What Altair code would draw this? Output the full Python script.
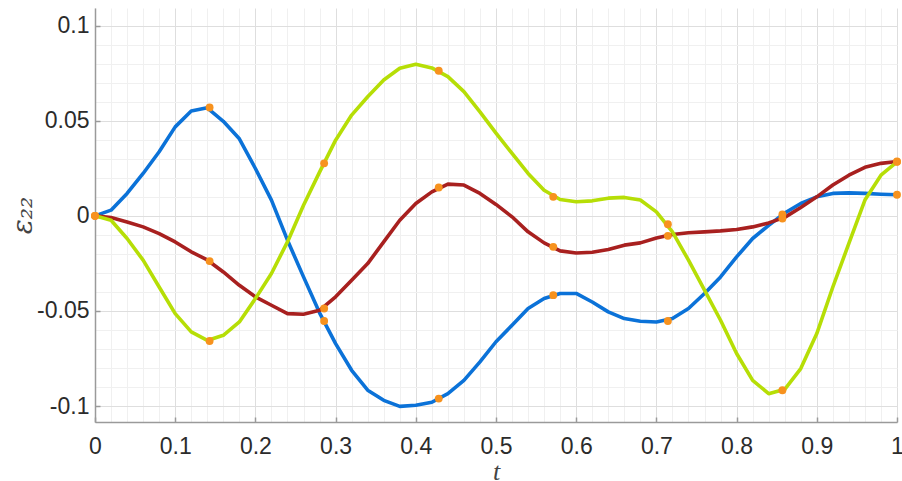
import altair as alt
import pandas as pd

# sample times of the curves
t = [0.0, 0.02, 0.04, 0.06, 0.08, 0.1, 0.12, 0.14, 0.16, 0.18,
     0.2, 0.22, 0.24, 0.26, 0.28, 0.3, 0.32, 0.34, 0.36, 0.38,
     0.4, 0.42, 0.44, 0.46, 0.48, 0.5, 0.52, 0.54, 0.56, 0.58,
     0.6, 0.62, 0.64, 0.66, 0.68, 0.7, 0.72, 0.74, 0.76, 0.78,
     0.8, 0.82, 0.84, 0.86, 0.88, 0.9, 0.92, 0.94, 0.96, 0.98, 1.0]

blue = [0.0, 0.003, 0.0118, 0.0223, 0.0337, 0.0468, 0.0551, 0.0568, 0.0497, 0.0405,
        0.0249, 0.0083, -0.0128, -0.0321, -0.051, -0.0672, -0.0812, -0.0917, -0.097, -0.1002,
        -0.0996, -0.098, -0.0935, -0.0865, -0.0768, -0.0662, -0.0575, -0.0487, -0.0435, -0.0408,
        -0.0408, -0.0453, -0.0505, -0.054, -0.0554, -0.0558, -0.054, -0.0487, -0.0408, -0.0321,
        -0.0216, -0.0119, -0.005, 0.0015, 0.0065, 0.010, 0.0118, 0.0121, 0.0118, 0.0114, 0.0111]

green = [0.0, -0.0023, -0.0119, -0.0233, -0.0374, -0.0514, -0.061, -0.0655, -0.0628, -0.0558,
         -0.0435, -0.0303, -0.0137, 0.0056, 0.023, 0.0398, 0.053, 0.0626, 0.0714, 0.0776,
         0.0797, 0.0778, 0.0732, 0.0653, 0.0547, 0.0435, 0.0328, 0.0223, 0.0135, 0.0086,
         0.0074, 0.0079, 0.0093, 0.0097, 0.0083, 0.0021, -0.0084, -0.0233, -0.0391, -0.0549,
         -0.0724, -0.0865, -0.0935, -0.0912, -0.0803, -0.0619, -0.0374, -0.0145, 0.0083, 0.0214, 0.0284]

red = [0.0, -0.0009, -0.0032, -0.0058, -0.0093, -0.0137, -0.0189, -0.0232, -0.0295, -0.0365,
       -0.0426, -0.047, -0.0514, -0.0517, -0.0497, -0.0426, -0.0338, -0.0251, -0.0137, -0.0023,
       0.0065, 0.0126, 0.0167, 0.0162, 0.0118, 0.006, -0.0005, -0.0084, -0.0142, -0.0184,
       -0.0195, -0.0191, -0.0177, -0.0154, -0.0142, -0.0116, -0.0098, -0.0089, -0.0084, -0.0079,
       -0.0072, -0.0058, -0.0037, -0.0008, 0.0044, 0.010, 0.0162, 0.0214, 0.0255, 0.0276, 0.0286]

# marker points
t_marks = [0.0, 0.1429, 0.2857, 0.4286, 0.5714, 0.7143, 0.8571, 1.0]
blue_marks = [0.0, 0.0570, -0.0553, -0.0961, -0.0417, -0.0553, 0.0007, 0.0111]
green_marks = [0.0, -0.0658, 0.0276, 0.0763, 0.0100, -0.0044, -0.0917, 0.0284]
red_marks = [0.0, -0.0238, -0.0487, 0.0149, -0.0163, -0.0105, -0.0014, 0.0286]

# axis ticks
x_major = [0, 0.1, 0.2, 0.3, 0.4, 0.5, 0.6, 0.7, 0.8, 0.9, 1]
y_major = [-0.1, -0.05, 0, 0.05, 0.1]
x_all = [round(i * 0.02, 2) for i in range(51)]
y_all = [round(-0.1 + i * 0.01, 2) for i in range(21)]

COL_BLUE = "#0b72d8"
COL_GREEN = "#b6de06"
COL_RED = "#a8201f"
COL_DOT = "#f7921e"
AXIS_GRAY = "#9a9a9a"

x_scale = alt.Scale(domain=[0, 1], nice=False, zero=False)
y_scale = alt.Scale(domain=[-0.1084, 0.1093], nice=False, zero=False)

x_major_test = "abs(datum.value*10 - round(datum.value*10)) < 1e-6"
y_major_test = "abs(datum.value*20 - round(datum.value*20)) < 1e-6"

main_x_axis = alt.Axis(
    values=x_all, orient="bottom",
    labelExpr=f"({x_major_test}) ? '' + datum.value : ''",
    labelFont="Liberation Sans", labelFontSize=23, labelColor="#2b2b2b",
    labelPadding=13, labelOverlap=False, labelFlush=False,
    ticks=False, tickSize=0,
    domain=True, domainColor=AXIS_GRAY, domainWidth=1.5,
    grid=True, gridWidth=1,
    gridColor={"condition": {"test": x_major_test, "value": "#dedede"}, "value": "#f0f0f0"},
    title="t", titleFont="Liberation Serif", titleFontStyle="italic",
    titleFontWeight="normal", titleFontSize=26, titleColor="#444444",
    titleX=401, titleY=49, titleBaseline="middle", titleAlign="center",
)

main_y_axis = alt.Axis(
    values=y_all, orient="left",
    labelExpr=f"({y_major_test}) ? '' + datum.value : ''",
    labelFont="Liberation Sans", labelFontSize=23, labelColor="#2b2b2b",
    labelPadding=6, labelOverlap=False, labelFlush=False,
    ticks=False, tickSize=0,
    domain=True, domainColor=AXIS_GRAY, domainWidth=1.5,
    grid=True, gridWidth=1,
    gridColor={"condition": {"test": y_major_test, "value": "#dedede"}, "value": "#f0f0f0"},
    title="ε₂₂", titleFont="DejaVu Serif", titleFontStyle="italic",
    titleFontWeight="normal", titleFontSize=28, titleColor="#444444",
    titleX=-72, titleY=207, titleBaseline="middle", titleAlign="center", titleAngle=270,
)

tick_x_axis = alt.Axis(values=x_major, orient="bottom", offset=-5, tickSize=5,
                       tickColor=AXIS_GRAY, tickWidth=1.5, labels=False,
                       domain=False, grid=False, title=None)
tick_y_axis = alt.Axis(values=y_major, orient="left", offset=-5, tickSize=5,
                       tickColor=AXIS_GRAY, tickWidth=1.5, labels=False,
                       domain=False, grid=False, title=None)

def line_layer(vals, color, first=False):
    df = pd.DataFrame({"t": t, "v": vals})
    if first:
        x = alt.X("t:Q", scale=x_scale, axis=main_x_axis)
        y = alt.Y("v:Q", scale=y_scale, axis=main_y_axis)
    else:
        x = alt.X("t:Q", scale=x_scale, axis=None)
        y = alt.Y("v:Q", scale=y_scale, axis=None)
    return alt.Chart(df).mark_line(strokeWidth=3.6, color=color,
                                   strokeJoin="round").encode(x=x, y=y)

blue_layer = line_layer(blue, COL_BLUE, first=True)
red_layer = line_layer(red, COL_RED)
green_layer = line_layer(green, COL_GREEN)

dots_df = pd.DataFrame({
    "t": t_marks * 3,
    "v": blue_marks + red_marks + green_marks,
})
dots = alt.Chart(dots_df).mark_circle(size=62, opacity=1, color=COL_DOT).encode(
    x=alt.X("t:Q", scale=x_scale, axis=tick_x_axis),
    y=alt.Y("v:Q", scale=y_scale, axis=tick_y_axis),
)

chart = alt.layer(blue_layer, red_layer, green_layer, dots).resolve_axis(
    x="independent", y="independent"
).properties(
    width=802, height=414,
    autosize=alt.AutoSizeParams(type="none"),
    padding={"left": 95, "top": 8, "right": 5, "bottom": 59},
    background="white",
).configure_view(stroke="transparent")

chart.save("out.html", embed_options={"renderer": "svg", "actions": False})
